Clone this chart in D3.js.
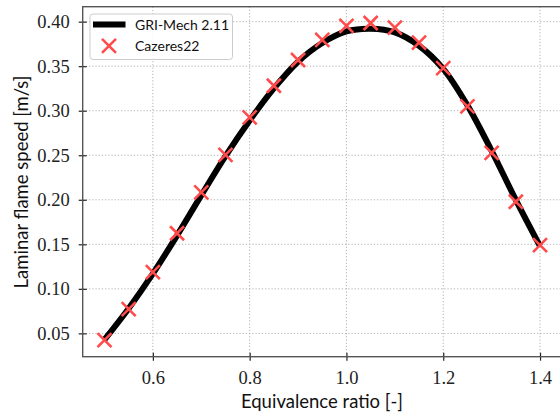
<!DOCTYPE html>
<html><head><meta charset="utf-8">
<script src="https://cdn.jsdelivr.net/npm/d3@7"></script>
<style>body{margin:0;background:#fff}svg{display:block}</style>
</head><body>
<script>
const phi = [0.50,0.55,0.60,0.65,0.70,0.75,0.80,0.85,0.90,0.95,1.00,1.05,1.10,1.15,1.20,1.25,1.30,1.35,1.40];
const griMech = [0.043,0.078,0.117,0.160,0.205,0.249,0.289,0.325,0.355,0.376,0.389,0.392,0.388,0.373,0.347,0.306,0.255,0.200,0.148];
const cazeres = [0.0425,0.0772,0.1187,0.1624,0.2084,0.2505,0.2925,0.328,0.357,0.3795,0.3952,0.3985,0.3933,0.3765,0.3478,0.3048,0.2526,0.1978,0.149];
const xTicks = [0.6,0.8,1.0,1.2,1.4];
const yTicks = [0.05,0.10,0.15,0.20,0.25,0.30,0.35,0.40];
const seriesNames = ["GRI-Mech 2.11","Cazeres22"];

const W=560,H=418;
const L=82.7,T=6.7,B=356.7,R=561.8;
const svg=d3.select("body").append("svg").attr("width",W).attr("height",H);
const x=d3.scaleLinear().domain([0.455,1.445]).range([L,R]);
const y=d3.scaleLinear().domain([0.0238,0.4168]).range([B,T]);

const grid=svg.append("g");
grid.selectAll(".gx").data(xTicks).join("line")
  .attr("x1",d=>x(d)).attr("x2",d=>x(d)).attr("y1",T).attr("y2",B)
  .attr("stroke","#b0b0b0").attr("stroke-width",1).attr("stroke-dasharray","1.2,2");
grid.selectAll(".gy").data(yTicks).join("line")
  .attr("y1",d=>y(d)).attr("y2",d=>y(d)).attr("x1",L).attr("x2",R)
  .attr("stroke","#b0b0b0").attr("stroke-width",1).attr("stroke-dasharray","1.2,2");

const tickFont="'Liberation Serif', serif";
const xAxis=svg.append("g").attr("transform",`translate(0,${B})`)
  .call(d3.axisBottom(x).tickValues(xTicks).tickFormat(d3.format(".1f")).tickSize(4).tickPadding(10.5));
const yAxis=svg.append("g").attr("transform",`translate(${L},0)`)
  .call(d3.axisLeft(y).tickValues(yTicks).tickFormat(d3.format(".2f")).tickSize(4).tickPadding(9));
[xAxis,yAxis].forEach(a=>{
  a.select(".domain").remove();
  a.selectAll(".tick line").attr("stroke","#222").attr("stroke-width",1.2);
  a.selectAll(".tick text").attr("font-family",tickFont).attr("font-size",18.5).attr("fill","#222");
});
xAxis.selectAll(".tick line").attr("y1",-4);
yAxis.selectAll(".tick line").attr("x1",4);

// spines
svg.append("rect").attr("x",L).attr("y",T).attr("width",R-L).attr("height",B-T)
  .attr("fill","none").attr("stroke","#555").attr("stroke-width",1.4);

const pts=phi.map((p,i)=>[p,griMech[i]]);
svg.append("path").datum(pts)
  .attr("d",d3.line().x(d=>x(d[0])).y(d=>y(d[1])).curve(d3.curveCatmullRom))
  .attr("fill","none").attr("stroke","#000").attr("stroke-width",6).attr("stroke-linejoin","round");

const red="#ff4b4b", ms=7;
const xp=(cx,cy,s)=>`M${cx-s},${cy-s}L${cx+s},${cy+s}M${cx-s},${cy+s}L${cx+s},${cy-s}`;
svg.append("g").selectAll("path").data(phi.map((p,i)=>[p,cazeres[i]])).join("path")
  .attr("d",d=>xp(x(d[0]),y(d[1]),ms)).attr("stroke",red).attr("stroke-width",2.6).attr("fill","none");

// legend
const lg=svg.append("g");
lg.append("rect").attr("x",90).attr("y",14).attr("width",142.5).attr("height",45.5).attr("rx",3)
  .attr("fill","#fff").attr("fill-opacity",0.85).attr("stroke","#ccc").attr("stroke-width",1);
lg.append("line").attr("x1",93).attr("x2",125.5).attr("y1",24.5).attr("y2",24.5).attr("stroke","#000").attr("stroke-width",6);
lg.append("path").attr("d",xp(109,45.8,7)).attr("stroke",red).attr("stroke-width",2.6);
const sans="Lato, 'Open Sans', sans-serif";
lg.append("text").attr("x",135).attr("y",29.8).text(seriesNames[0]).attr("font-family",sans).attr("font-size",14).attr("fill","#111");
lg.append("text").attr("x",135).attr("y",51).text(seriesNames[1]).attr("font-family",sans).attr("font-size",14).attr("fill","#111");

svg.append("text").attr("x",322).attr("y",408).attr("text-anchor","middle")
  .attr("font-family",sans).attr("font-size",18.5).attr("fill","#111").text("Equivalence ratio [-]");
svg.append("text").attr("transform","translate(28,182) rotate(-90)").attr("text-anchor","middle")
  .attr("font-family",sans).attr("font-size",18.5).attr("fill","#111").text("Laminar flame speed [m/s]");
</script>
</body></html>
